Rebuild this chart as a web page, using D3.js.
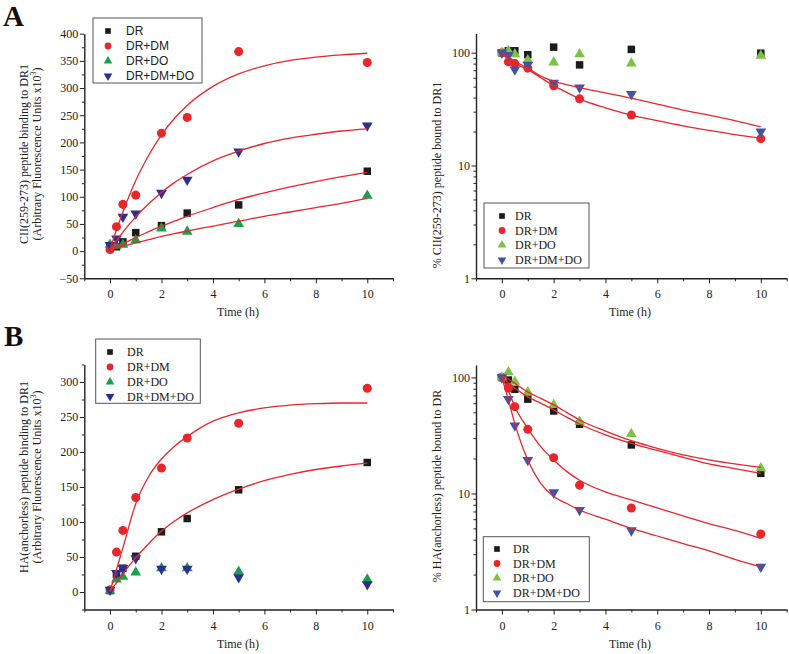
<!DOCTYPE html>
<html><head><meta charset="utf-8">
<script src="https://cdn.jsdelivr.net/npm/d3@7"></script>
<style>body{margin:0;background:#fff}svg{display:block}</style>
</head><body>
<script>
// ---------------- DATA ----------------
const timePoints = [0, 0.25, 0.5, 1, 2, 3, 5, 10];
const seriesNames = ["DR", "DR+DM", "DR+DO", "DR+DM+DO"];
const xTickLabels = [0, 2, 4, 6, 8, 10];

// Panel A, left: CII(259-273) binding (x10^3 AFU)
const aBind_DR   = [5, 8, 17, 34, 47, 70, 85, 147];
const aBind_DM   = [3, 45, 86, 103, 217, 246, 367, 347];
const aBind_DO   = [12, 10, 12, 20, 42, 36, 50, 102];
const aBind_DMDO = [11, 23, 63, 69, 107, 131, 183, 231];

// Panel A, right: % CII bound (log)
const aBound_DR   = [100, 104, 104, 96, 112, 78, 107, 99];
const aBound_DM   = [100, 83, 80, 73, 51, 39, 28, 17.3];
const aBound_DO   = [100, 104, 97, 86, 82, 97, 80.5, 94];
const aBound_DMDO = [100, 95, 71, 78, 54, 49, 43, 20];

// Panel B, left: HA(anchorless) binding
const bBind_DR   = [2, 25, 34, 51, 86, 105, 146, 185];
const bBind_DM   = [3, 57, 88, 135, 177, 220, 241, 291];
const bBind_DO   = [2, 18, 22, 28, 34, 34, 29, 18];
const bBind_DMDO = [3, 27, 34, 48, 33, 33, 21, 11];

// Panel B, right: % HA bound (log)
const bBound_DR   = [100, 95, 79, 65, 51.4, 39.5, 26.2, 14.9];
const bBound_DM   = [100, 81, 56, 35.7, 20.3, 11.8, 7.5, 4.47];
const bBound_DO   = [100, 111, 92, 74.5, 58, 41.6, 32.6, 16.5];
const bBound_DMDO = [100, 65, 38.4, 19.4, 10.2, 7.2, 4.8, 2.33];

// Fitted curves
const fitTimes = [0, 0.25, 0.5, 1, 1.5, 2, 2.5, 3, 4, 5, 6, 7, 8, 9, 10];
const aBindFit_DM   = [3, 39, 72, 130, 176, 214, 244, 268, 303, 326, 341, 351, 357, 361, 364];
const aBindFit_DMDO = [3, 19, 35, 63, 87, 108, 126, 141, 166, 184, 198, 208, 215, 221, 225];
const aBindFit_DR   = [3, 9, 14, 25, 36, 46, 55, 64, 80, 95, 107, 118, 128, 137, 145];
const aBindFit_DO   = [3, 6, 9, 15, 21, 27, 32, 37, 46, 55, 64, 72, 80, 88, 97];
const aBoundFit_DM   = [100, 87, 80, 71, 60, 51, 44.5, 39, 32.5, 28, 25, 22.5, 20.5, 18.8, 17.5];
const aBoundFit_DMDO = [100, 92, 84, 73, 62, 56, 52, 49, 44, 39.5, 35, 31, 28, 25, 22];
const bBindFit_DM = [1, 32, 63, 126, 165, 190, 208, 222, 244, 256, 263, 267, 269, 270, 270];
const bBindFit_DR = [1, 13, 26, 49, 69, 87, 101, 113, 132, 147, 159, 168, 175, 180, 184];
const bBoundFit_DR   = [100, 90, 81, 68, 60, 52.5, 45.5, 39.7, 32, 27, 23.5, 20.5, 18, 16.4, 14.9];
const bBoundFit_DO   = [103, 97, 89, 75, 66, 58, 50, 43, 34.5, 28.5, 24.5, 21.5, 19.5, 18, 16.8];
const bBoundFit_DM   = [100, 77, 56, 36.4, 25.3, 19.4, 15.5, 13, 10.3, 8.8, 7.5, 6.4, 5.5, 4.8, 4.1];
const bBoundFit_DMDO = [100, 64, 40, 19.4, 12.2, 9.4, 8.2, 7.2, 6.0, 5.0, 4.3, 3.7, 3.2, 2.7, 2.33];

// ---------------- DRAWING ----------------
const W = 789, H = 654;
const SERIF = "'Liberation Serif','Times New Roman',serif";
const SANS = "'Liberation Sans',Arial,sans-serif";
const RED = "#e8262b", BLACK = "#1b1b1b";
const svg = d3.select("body").append("svg").attr("width", W).attr("height", H)
  .style("font-family", SERIF);

const shapes = [d3.symbolSquare, d3.symbolCircle, d3.symbolTriangle, d3.symbolTriangle];
const rot = [0, 0, 0, 180];

function panel(cfg) {
  const g = svg.append("g");
  const x = d3.scaleLinear().domain([-1, 11]).range([cfg.left, cfg.right]);
  const y = cfg.log ? d3.scaleLog().domain(cfg.yDomain).range([cfg.bottom, cfg.top])
                    : d3.scaleLinear().domain(cfg.yDomain).range([cfg.bottom, cfg.top]);
  const colors = [BLACK, RED, cfg.green, cfg.blue];

  // minor ticks
  g.append("g").attr("transform", `translate(0,${cfg.bottom})`)
    .call(d3.axisBottom(x).tickValues([-1, 1, 3, 5, 7, 9, 11]).tickSize(3).tickSizeOuter(0).tickFormat(""))
    .call(a => a.select(".domain").remove());
  g.append("g").attr("transform", `translate(${cfg.left},0)`)
    .call(d3.axisLeft(y).tickValues(cfg.yMinor).tickSize(2.5).tickSizeOuter(0).tickFormat(""))
    .call(a => a.select(".domain").remove());
  // major axes
  const xa = g.append("g").attr("transform", `translate(0,${cfg.bottom})`)
    .call(d3.axisBottom(x).tickValues(xTickLabels).tickSize(5).tickPadding(6.5).tickSizeOuter(0).tickFormat(d3.format("d")));
  const ya = g.append("g").attr("transform", `translate(${cfg.left},0)`)
    .call(d3.axisLeft(y).tickValues(cfg.yTicks).tickSize(4.5).tickPadding(1.5).tickSizeOuter(0).tickFormat(d3.format("d")));
  [xa, ya].forEach(a => {
    a.selectAll("text").style("font-family", SERIF).style("font-size", "12px").attr("fill", "#222");
    a.select(".domain").attr("stroke", "#222").attr("stroke-width", 1.4);
  });
  g.selectAll(".tick line").attr("stroke", "#222").attr("stroke-width", 1);

  // markers
  cfg.series.forEach((vals, i) => {
    g.append("g").selectAll("path").data(timePoints.map((t, k) => [t, vals[k]])).join("path")
      .attr("d", d3.symbol(shapes[i], i === 1 ? 64 : (i === 0 ? 56 : 50)))
      .attr("transform", d => `translate(${x(d[0])},${y(d[1])}) rotate(${rot[i]})`)
      .attr("fill", colors[i]);
  });
  // fit curves
  const line = d3.line().x(d => x(d[0])).y(d => y(d[1])).curve(d3.curveMonotoneX);
  cfg.fits.forEach(f => {
    g.append("path").datum(fitTimes.map((t, k) => [t, f[k]]))
      .attr("d", line).attr("fill", "none").attr("stroke", RED).attr("stroke-width", 1.3);
  });

  // legend
  const L = cfg.legend;
  g.append("rect").attr("x", L.x0).attr("y", L.y0).attr("width", L.x1 - L.x0).attr("height", L.y1 - L.y0)
    .attr("fill", "#fff").attr("stroke", "#555").attr("stroke-width", 1);
  seriesNames.forEach((n, i) => {
    g.append("path").attr("d", d3.symbol(shapes[i], i === 1 ? 36 : 32))
      .attr("transform", `translate(${L.sx},${L.rows[i]}) rotate(${rot[i]})`).attr("fill", colors[i]);
    g.append("text").attr("x", L.tx).attr("y", L.rows[i]).attr("dy", "0.36em")
      .style("font-family", L.font).style("font-size", "12px").attr("fill", "#222").text(n);
  });

  // axis titles
  g.append("text").attr("x", cfg.xLabel[0]).attr("y", cfg.xLabel[1]).attr("text-anchor", "middle")
    .style("font-size", "12px").attr("fill", "#222").text("Time (h)");
  cfg.yLabels.forEach(l => {
    const t = g.append("text").attr("transform", `translate(${l.x},${l.cy}) rotate(-90)`)
      .attr("text-anchor", "middle").style("font-size", "12px").attr("fill", "#222");
    if (l.sup) {
      t.append("tspan").text(l.text);
      t.append("tspan").attr("dy", -5).style("font-size", "8px").text("3");
      t.append("tspan").attr("dy", 5).text(")");
    } else t.text(l.text);
  });
}

const minorLin = (a, b, s) => d3.range(a, b + 0.001, s);
const logMinor = top => [2,3,4,5,6,7,8,9,20,30,40,50,60,70,80,90].filter(v => v <= top);

panel({
  left: 84.3, right: 393, top: 33.7, bottom: 278.3, log: false, yDomain: [-50, 400],
  yTicks: d3.range(-50, 401, 50), yMinor: minorLin(-25, 375, 50),
  green: "#1a9f4c", blue: "#2d2f8e",
  series: [aBind_DR, aBind_DM, aBind_DO, aBind_DMDO],
  fits: [aBindFit_DM, aBindFit_DMDO, aBindFit_DR, aBindFit_DO],
  legend: {x0: 93, x1: 202, y0: 18, y1: 83, sx: 108, tx: 126, rows: [31, 46, 61, 76], font: SANS},
  xLabel: [238, 316],
  yLabels: [{x: 28, cy: 154, text: "CII(259-273) peptide binding to DR1"},
            {x: 41, cy: 154, text: "(Arbitrary Fluorescence Units x10", sup: true}]
});
panel({
  left: 476, right: 786.7, top: 33.5, bottom: 278.3, log: true, yDomain: [1, 148],
  yTicks: [1, 10, 100], yMinor: logMinor(148),
  green: "#7cc243", blue: "#4053a4",
  series: [aBound_DR, aBound_DM, aBound_DO, aBound_DMDO],
  fits: [aBoundFit_DM, aBoundFit_DMDO],
  legend: {x0: 484, x1: 589, y0: 203, y1: 268, sx: 502, tx: 515, rows: [216, 230.5, 245, 260], font: SERIF},
  xLabel: [630, 316],
  yLabels: [{x: 441, cy: 175, text: "% CII(259-273) peptide bound to DR1"}]
});
panel({
  left: 84.3, right: 393, top: 364.5, bottom: 609.5, log: false, yDomain: [-25, 325],
  yTicks: d3.range(0, 301, 50), yMinor: minorLin(-25, 325, 50),
  green: "#1a9f4c", blue: "#2d2f8e",
  series: [bBind_DR, bBind_DM, bBind_DO, bBind_DMDO],
  fits: [bBindFit_DM, bBindFit_DR],
  legend: {x0: 95.7, x1: 200.3, y0: 339, y1: 403.3, sx: 110, tx: 127, rows: [352, 367, 382, 396.5], font: SERIF},
  xLabel: [238, 648],
  yLabels: [{x: 28, cy: 477, text: "HA(anchorless) peptide binding to DR1"},
            {x: 41, cy: 477, text: "(Arbitrary Fluorescence Units x10", sup: true}]
});
panel({
  left: 476, right: 786.7, top: 365, bottom: 609.5, log: true, yDomain: [1, 128],
  yTicks: [1, 10, 100], yMinor: logMinor(128),
  green: "#7cc243", blue: "#4053a4",
  series: [bBound_DR, bBound_DM, bBound_DO, bBound_DMDO],
  fits: [bBoundFit_DR, bBoundFit_DO, bBoundFit_DM, bBoundFit_DMDO],
  legend: {x0: 483.3, x1: 589.3, y0: 536.7, y1: 601.7, sx: 497, tx: 513, rows: [549, 563.5, 578, 593], font: SERIF},
  xLabel: [630, 648],
  yLabels: [{x: 441, cy: 486, text: "% HA(anchorless) peptide bound to DR"}]
});

// panel letters
svg.append("text").attr("x", 3).attr("y", 26).style("font-size", "29px").style("font-weight", "bold").attr("fill", "#111").text("A");
svg.append("text").attr("x", 4).attr("y", 346).style("font-size", "29px").style("font-weight", "bold").attr("fill", "#111").text("B");
</script>
</body></html>
